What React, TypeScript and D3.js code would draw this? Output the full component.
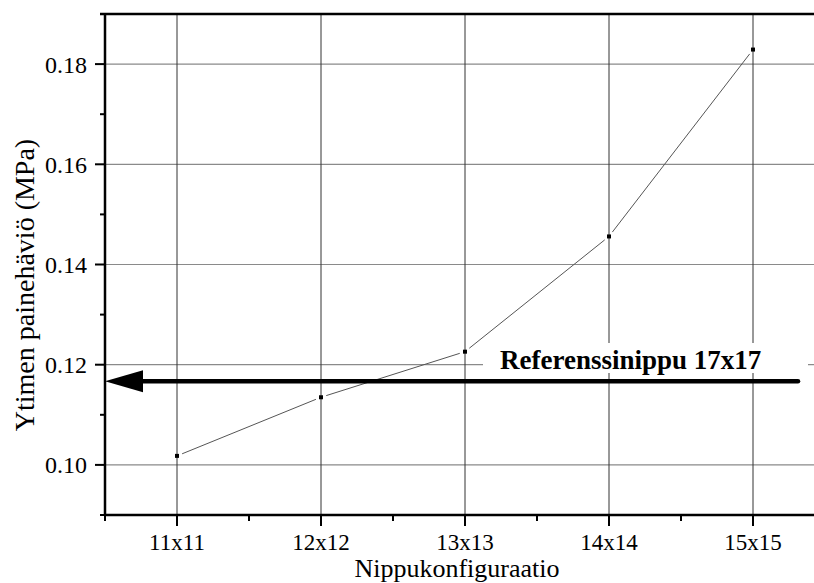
import React from "react";
import * as d3 from "d3";

const categories = ["11x11", "12x12", "13x13", "14x14", "15x15"];
const bundleSizes = [11, 12, 13, 14, 15];
const pressureDrop = [0.1018, 0.1135, 0.1226, 0.1456, 0.1829];
const yTicks = [0.1, 0.12, 0.14, 0.16, 0.18];
const yMinorTicks = [0.09, 0.11, 0.13, 0.15, 0.17, 0.19];
const xMinorTicks = [10.5, 11.5, 12.5, 13.5, 14.5, 15.5];
const referenceValue = 0.1167;
const referenceLabel = "Referenssinippu 17x17";
const xTitle = "Nippukonfiguraatio";
const yTitle = "Ytimen painehäviö (MPa)";

const W = 814;
const H = 583;
const FONT = "Liberation Serif, Times New Roman, serif";

export default function App() {
  const x = d3.scaleLinear().domain([10.5, 15.5]).range([105, 825]);
  const y = d3.scaleLinear().domain([0.09, 0.19]).range([515, 14]);
  const left = x(10.5);
  const bottom = y(0.09);
  const top = y(0.19);

  const pts = bundleSizes.map((s, i) => [x(s), y(pressureDrop[i])] as [number, number]);
  const gap = 5.5;
  const segs = pts.slice(1).map((p, i) => {
    const a = pts[i];
    const dx = p[0] - a[0];
    const dy = p[1] - a[1];
    const len = Math.hypot(dx, dy);
    const ux = dx / len;
    const uy = dy / len;
    return d3.line()([
      [a[0] + ux * gap, a[1] + uy * gap],
      [p[0] - ux * gap, p[1] - uy * gap],
    ]);
  });

  const refY = y(referenceValue);
  const arrowTip = left;
  const arrowBack = left + 38;
  const arrowEnd = 798;

  const ts = { fontFamily: FONT } as React.CSSProperties;

  return (
    <svg
      width={W}
      height={H}
      style={{ position: "absolute", left: 0, top: 0, background: "#fff" }}
    >
      {/* horizontal grid */}
      {yTicks.map((t) => (
        <line key={"hg" + t} x1={left} x2={W} y1={y(t)} y2={y(t)} stroke="#8a8a8a" strokeWidth={1.2} />
      ))}
      {/* vertical grid */}
      {bundleSizes.map((s) => (
        <line key={"vg" + s} x1={x(s)} x2={x(s)} y1={top} y2={bottom} stroke="#333" strokeWidth={1} />
      ))}

      {/* label background */}
      <rect x={483} y={343} width={325} height={30} fill="#fff" />
      <text x={500} y={369} fontSize={27} fontWeight="bold" fill="#000" style={ts}>
        {referenceLabel}
      </text>

      {/* data line */}
      {segs.map((d, i) => (
        <path key={"s" + i} d={d || ""} stroke="#555" strokeWidth={1} fill="none" />
      ))}
      {pts.map((p, i) => (
        <rect key={"p" + i} x={p[0] - 2} y={p[1] - 2} width={4} height={4} fill="#000" />
      ))}

      {/* reference arrow */}
      <line
        x1={arrowBack - 2}
        x2={arrowEnd}
        y1={refY}
        y2={refY}
        stroke="#000"
        strokeWidth={4.5}
        strokeLinecap="round"
      />
      <path
        d={`M${arrowTip},${refY} L${arrowBack},${refY - 11} L${arrowBack},${refY + 11} Z`}
        fill="#000"
      />

      {/* axes frame */}
      <line x1={left - 5} x2={W} y1={top} y2={top} stroke="#000" strokeWidth={2.5} />
      <line x1={left} x2={left} y1={top} y2={bottom + 1} stroke="#000" strokeWidth={2.5} />
      <line x1={left - 1} x2={W} y1={bottom} y2={bottom} stroke="#000" strokeWidth={2.5} />

      {/* y ticks */}
      {yTicks.map((t) => (
        <g key={"yt" + t}>
          <line x1={left - 10} x2={left} y1={y(t)} y2={y(t)} stroke="#000" strokeWidth={2} />
          <text x={87} y={y(t)} dy="0.35em" textAnchor="end" fontSize={24} fill="#000" style={ts}>
            {d3.format(".2f")(t)}
          </text>
        </g>
      ))}
      {yMinorTicks.map((t) => (
        <line key={"ym" + t} x1={left - 5} x2={left} y1={y(t)} y2={y(t)} stroke="#000" strokeWidth={2} />
      ))}

      {/* x ticks */}
      {bundleSizes.map((s, i) => (
        <g key={"xt" + s}>
          <line x1={x(s)} x2={x(s)} y1={bottom} y2={bottom + 11} stroke="#000" strokeWidth={2} />
          <text x={x(s)} y={550} textAnchor="middle" fontSize={23} fill="#000" style={ts}>
            {categories[i]}
          </text>
        </g>
      ))}
      {xMinorTicks.map((t) => (
        <line key={"xm" + t} x1={x(t)} x2={x(t)} y1={bottom} y2={bottom + 6} stroke="#000" strokeWidth={2} />
      ))}

      {/* titles */}
      <text x={457} y={577} textAnchor="middle" fontSize={26} fill="#000" style={ts}>
        {xTitle}
      </text>
      <text
        transform={`translate(34, 285) rotate(-90)`}
        textAnchor="middle"
        fontSize={28}
        fill="#000"
        style={ts}
      >
        {yTitle}
      </text>
    </svg>
  );
}
